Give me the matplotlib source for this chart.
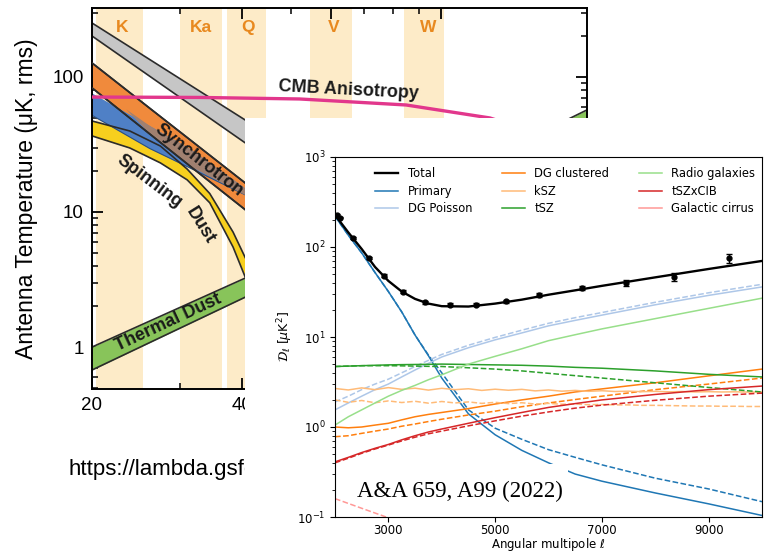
import numpy as np
import matplotlib.pyplot as plt
from matplotlib.lines import Line2D
from matplotlib.patches import Rectangle

W, H = 767, 552


def box(x0, y0, x1, y1):
    # pixel box (top-left origin) -> figure fraction rect
    return [x0 / W, 1 - y1 / H, (x1 - x0) / W, (y1 - y0) / H]


# ---------------- WMAP foreground spectrum ----------------
band_names = ['K', 'Ka', 'Q', 'V', 'W']
band_lo = [20.4, 30.0, 37.3, 54.7, 84.1]
band_hi = [25.3, 36.4, 44.5, 66.3, 101.0]
band_mid = [23, 33, 41, 61, 94]

fg_nu = [20, 40.5, 45]
fg_hi = [251, 48, 37.4]
fg_lo = [201, 32.5, 24.7]

sync_nu = [20, 26.1, 31.4, 40.5, 45]
sync_hi = [127, 58.6, 34.3, 16.4, 12.1]
sync_lo = [83, 37.8, 21.9, 10.4, 7.6]
ff_hi = [76, 43.5, 29.4, 15.0, 11.5]
ff_lo = [52, 29.5, 21.2, 13.4, 10.3]

spin_nu = [20, 23.8, 27.4, 31.0, 34.4, 38.3, 40.5, 45]
spin_hi = [47.2, 39.8, 30.8, 20.8, 13.7, 7.1, 4.6, 2.2]
spin_lo = [36.6, 29.8, 23.1, 17.3, 11.7, 5.5, 3.3, 1.6]

dust_nu = [20, 40.5, 195.5]
dust_hi = [1.0, 3.24, 57]
dust_lo = [0.676, 2.34, 40.5]

cmb_nu = [20, 33, 52, 85, 125, 160, 196]
cmb_T = [71, 70.5, 68.7, 62, 49.7, 37, 27]

# ---------------- SPT-like power spectrum ----------------
ell = [2000, 2250, 2500, 2750, 3000, 3250, 3500, 3750, 4000, 4500,
       5000, 5500, 6000, 6500, 7000, 8000, 9000, 10000]
total = [227, 145, 95, 60, 42, 32, 26.5, 23.5, 22, 21.8,
         23.5, 26, 29.5, 33, 37, 46, 57, 70]
primary = [220, 135, 86, 52, 32, 19, 10.5, 6.2, 3.5, 1.4,
           0.82, 0.55, 0.40, 0.30, 0.25, 0.185, 0.14, 0.104]
primary_d = [220, 135, 86, 52, 32, 19, 10.5, 6.3, 4.0, 1.55,
             0.97, 0.73, 0.56, 0.46, 0.38, 0.27, 0.205, 0.148]
dg_po = [1.55, 1.85, 2.2, 2.6, 3.0, 3.6, 4.3, 5.1, 6.0, 7.6,
         9.3, 11.1, 13.3, 15.3, 17.5, 22.8, 29, 36]
dg_po_d = [1.9, 2.2, 2.6, 3.0, 3.4, 4.0, 4.7, 5.5, 6.4, 8.1,
           9.9, 11.9, 14.2, 16.4, 18.7, 24.3, 31, 38.5]
dg_cl = [1.0, 0.98, 1.0, 1.05, 1.1, 1.2, 1.3, 1.38, 1.45, 1.6,
         1.8, 2.0, 2.2, 2.45, 2.65, 3.1, 3.7, 4.4]
dg_cl_d = [0.78, 0.8, 0.85, 0.9, 0.95, 1.02, 1.08, 1.15, 1.22, 1.36,
           1.5, 1.68, 1.85, 2.02, 2.2, 2.6, 3.0, 3.5]
tsz = [4.7, 4.75, 4.8, 4.85, 4.9, 4.93, 4.95, 4.97, 5.0, 4.95,
       4.9, 4.85, 4.75, 4.6, 4.5, 4.2, 3.85, 3.6]
tsz_d = [4.7, 4.75, 4.8, 4.8, 4.8, 4.78, 4.75, 4.72, 4.7, 4.55,
         4.4, 4.2, 3.95, 3.72, 3.5, 3.1, 2.75, 2.45]
radio = [1.05, 1.3, 1.55, 1.85, 2.2, 2.55, 2.9, 3.35, 3.8, 5.0,
         6.1, 7.4, 9.1, 10.6, 12.3, 16.0, 20.8, 27]
tszcib = [0.41, 0.46, 0.52, 0.58, 0.64, 0.72, 0.8, 0.88, 0.95, 1.1,
          1.27, 1.45, 1.65, 1.82, 2.0, 2.3, 2.6, 2.85]
tszcib_d = [0.40, 0.45, 0.51, 0.57, 0.63, 0.7, 0.77, 0.84, 0.9, 1.03,
            1.17, 1.32, 1.47, 1.62, 1.75, 1.98, 2.2, 2.38]

ksz_ell = [2000, 2250, 2500, 2750, 3000, 3250, 3500, 3750, 4000, 4250, 4500,
           4750, 5000, 5250, 5500, 5750, 6000, 6250, 6500, 6750, 7000, 7250,
           7500, 7750, 8000, 8250, 8500, 8750, 9000, 9250, 9500, 9750, 10000]
ksz = [2.68, 2.58, 2.72, 2.6, 2.74, 2.62, 2.7, 2.57, 2.69, 2.6, 2.66,
       2.55, 2.63, 2.56, 2.62, 2.52, 2.58, 2.5, 2.55, 2.49, 2.53, 2.48,
       2.5, 2.47, 2.49, 2.46, 2.48, 2.45, 2.47, 2.45, 2.46, 2.44, 2.45]
ksz_d = [2.0, 1.88, 1.97, 1.86, 1.95, 1.87, 1.93, 1.84, 1.92, 1.85, 1.9,
         1.83, 1.88, 1.82, 1.86, 1.8, 1.83, 1.79, 1.8, 1.77, 1.78, 1.76,
         1.76, 1.74, 1.74, 1.73, 1.72, 1.71, 1.71, 1.7, 1.7, 1.69, 1.69]

cirrus_ell = [2000, 2500, 3000, 3500]
cirrus_d = [0.16, 0.125, 0.098, 0.08]

obs_ell = [2030, 2100, 2340, 2640, 2920, 3280, 3680, 4150, 4650, 5210,
           5830, 6620, 7450, 8350, 9380]
obs_val = [227, 212, 125, 76, 48, 32, 24.3, 22.8, 22.8, 25.1,
           29.3, 35, 39.5, 46.8, 75]
obs_err = [4, 4, 3, 2, 1.5, 1, 0.8, 0.8, 0.8, 1,
           1.2, 1.5, 3, 4.5, 8.5]

fig = plt.figure(figsize=(W / 100, H / 100), dpi=100)
sans = 'Liberation Sans'
edge = '#2b2b2b'

# left: antenna temperature vs frequency
ax1 = fig.add_axes(box(92, 8, 587, 389), zorder=1)
ax1.set_xscale('log')
ax1.set_yscale('log')
ax1.set_xlim(20, 195.5)
ax1.set_ylim(0.489, 324)

for lo, hi, name, mid in zip(band_lo, band_hi, band_names, band_mid):
    ax1.axvspan(lo, hi, color='#fdebc8', lw=0, zorder=0)
    ax1.text(mid, 0.95, name, transform=ax1.get_xaxis_transform(),
             ha='center', va='center', color='#e8891f', fontsize=12.5,
             fontweight='bold', family=sans)


def band(nu, lo, hi, color, z):
    ax1.fill_between(nu, lo, hi, color=color, lw=0, zorder=z)
    ax1.plot(nu, lo, color=edge, lw=1.2, zorder=z + 0.5)
    ax1.plot(nu, hi, color=edge, lw=1.2, zorder=z + 0.5)


band(fg_nu, fg_lo, fg_hi, '#c6c6c6', 2)
band(sync_nu, sync_lo, sync_hi, '#f08a3c', 2)
ax1.fill_between(sync_nu, ff_lo, ff_hi, color='#4f80c6', lw=0, zorder=2.1)
ax1.plot(sync_nu, ff_lo, color='#2a4f80', lw=0.8, zorder=2.2)
ov_lo = np.maximum(sync_lo, ff_lo)
ov_hi = np.minimum(sync_hi, ff_hi)
ax1.fill_between(sync_nu, ov_lo, ov_hi, where=ov_hi > ov_lo, interpolate=True,
                 color='#a08070', lw=0, zorder=2.3)
ax1.plot(sync_nu, sync_lo, color=edge, lw=1.2, zorder=2.6)
ax1.plot(sync_nu, sync_hi, color=edge, lw=1.2, zorder=2.6)
band(spin_nu, spin_lo, spin_hi, '#f7cf1e', 2)
band(dust_nu, dust_lo, dust_hi, '#88c45a', 2)
ax1.plot(cmb_nu, cmb_T, color='#e2378c', lw=2.4, zorder=4)

lab = dict(fontweight='bold', fontsize=13, family=sans, color='#1a1a1a',
           ha='center', va='center', rotation_mode='anchor', zorder=5)
ax1.text(65.3, 80.2, 'CMB Anisotropy', rotation=-3, **lab)
ax1.text(32.7, 24.3, 'Synchrotron', rotation=-38, **lab)
ax1.text(26.1, 16.7, 'Spinning', rotation=-37, **lab)
ax1.text(32.9, 8.0, 'Dust', rotation=-58, **lab)
ax1.text(28.4, 1.51, 'Thermal Dust', rotation=25, **lab)

ax1.set_xticks([20, 40, 60, 100])
ax1.set_xticklabels(['20', '40', '60', '100'])
ax1.set_xticks([30, 50, 70, 80, 90], minor=True)
ax1.xaxis.set_minor_formatter(plt.NullFormatter())
ax1.set_yticks([1, 10, 100])
ax1.set_yticklabels(['1', '10', '100'])
ax1.tick_params(which='both', direction='in', top=True, right=True,
                labelsize=13.5, labelfontfamily=sans, pad=6)
ax1.tick_params(which='major', length=8, width=1.3)
ax1.tick_params(which='minor', length=4.5, width=1.1)
for s in ax1.spines.values():
    s.set_linewidth(1.4)
ax1.set_ylabel('Antenna Temperature (\u03bcK, rms)', fontsize=16.5,
               family=sans, labelpad=10)
ax1.text(68 / W, 1 - 470 / H, 'https://lambda.gsfc.nasa.gov/',
         transform=fig.transFigure, fontsize=16, family=sans,
         ha='left', va='center', clip_on=False)

# white sheet behind the right-hand figure
fig.add_artist(Rectangle((245 / W, 0), 1 - 245 / W, 1 - 118 / H,
                         transform=fig.transFigure, facecolor='white',
                         edgecolor='none', zorder=2))

# right: foreground power spectra
ax2 = fig.add_axes(box(335, 157, 762, 517), zorder=3)
ax2.set_yscale('log')
lw = 1.1
ax2.plot(ell, primary, color='#1f77b4', lw=lw)
ax2.plot(ell, primary_d, color='#1f77b4', lw=lw, ls='--')
ax2.plot(ell, dg_po, color='#aec7e8', lw=lw)
ax2.plot(ell, dg_po_d, color='#aec7e8', lw=lw, ls='--')
ax2.plot(ell, dg_cl, color='#ff7f0e', lw=lw)
ax2.plot(ell, dg_cl_d, color='#ff7f0e', lw=lw, ls='--')
ax2.plot(ksz_ell, ksz, color='#ffbb78', lw=lw)
ax2.plot(ksz_ell, ksz_d, color='#ffbb78', lw=lw, ls='--')
ax2.plot(ell, tsz, color='#2ca02c', lw=lw)
ax2.plot(ell, tsz_d, color='#2ca02c', lw=lw, ls='--')
ax2.plot(ell, radio, color='#98df8a', lw=lw)
ax2.plot(ell, tszcib, color='#d62728', lw=lw)
ax2.plot(ell, tszcib_d, color='#d62728', lw=lw, ls='--')
ax2.plot(cirrus_ell, cirrus_d, color='#ff9896', lw=lw, ls='--')
ax2.plot(ell, total, color='k', lw=1.7, zorder=5)
ax2.errorbar(obs_ell, obs_val, yerr=obs_err, fmt='o', color='k', ms=3.5,
             capsize=2, elinewidth=1, zorder=6)

names = ['Total', 'Primary', 'DG Poisson', 'DG clustered', 'kSZ', 'tSZ',
         'Radio galaxies', 'tSZxCIB', 'Galactic cirrus']
colors = ['k', '#1f77b4', '#aec7e8', '#ff7f0e', '#ffbb78', '#2ca02c',
          '#98df8a', '#d62728', '#ff9896']
handles = [Line2D([], [], color=c, lw=1.7 if c == 'k' else lw) for c in colors]
ax2.legend(handles, names, ncol=3, frameon=False, fontsize=8.3,
           loc='upper left', bbox_to_anchor=(0.07, 1.0), columnspacing=2.6,
           labelspacing=0.38)

ax2.set_xlim(2000, 10000)
ax2.set_ylim(0.1, 1000)
ax2.set_xticks([3000, 5000, 7000, 9000])
ax2.tick_params(labelsize=8.5)
ax2.tick_params(axis='x', pad=1.5)
ax2.set_xlabel('Angular multipole $\\ell$', fontsize=8.5)
ax2.xaxis.set_label_coords(0.5, -0.052)
ax2.set_ylabel('$\\mathcal{D}_\\ell$ [$\\mu$K$^2$]', fontsize=9, labelpad=1)

ax2.add_patch(Rectangle((0.035, 0.042), 0.511, 0.105, transform=ax2.transAxes,
                        facecolor='white', edgecolor='none', zorder=7))
ax2.text(0.0515, 0.072, 'A&A 659, A99 (2022)', transform=ax2.transAxes,
         family='Liberation Serif', fontsize=16.5, va='center', zorder=8)

fig.savefig('out.png', dpi=100)
